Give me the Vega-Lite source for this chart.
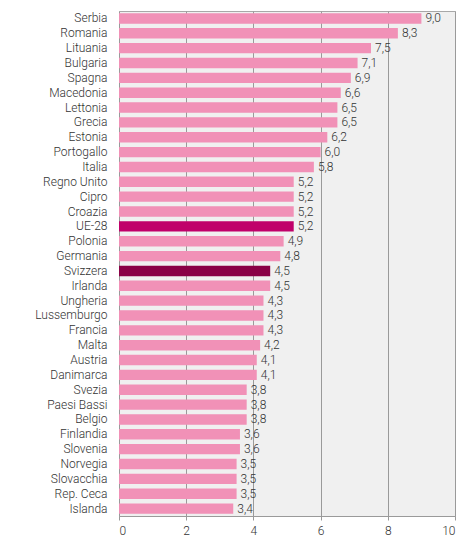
{
  "$schema": "https://vega.github.io/schema/vega-lite/v6.json",
  "width": 336,
  "height": 505,
  "autosize": {"type": "none"},
  "padding": {"left": 119, "top": 11, "right": 20, "bottom": 24},
  "background": "white",
  "config": {
    "font": "Roboto",
    "locale": {"number": {"decimal": ",", "thousands": ".", "grouping": [3], "currency": ["€", ""]}},
    "view": {"fill": "#f0f0f0", "stroke": "#a8a8a8", "strokeWidth": 1}
  },
  "data": {
    "values": [
      {"paese": "Serbia", "valore": 9.0, "tipo": "altro"},
      {"paese": "Romania", "valore": 8.3, "tipo": "altro"},
      {"paese": "Lituania", "valore": 7.5, "tipo": "altro"},
      {"paese": "Bulgaria", "valore": 7.1, "tipo": "altro"},
      {"paese": "Spagna", "valore": 6.9, "tipo": "altro"},
      {"paese": "Macedonia", "valore": 6.6, "tipo": "altro"},
      {"paese": "Lettonia", "valore": 6.5, "tipo": "altro"},
      {"paese": "Grecia", "valore": 6.5, "tipo": "altro"},
      {"paese": "Estonia", "valore": 6.2, "tipo": "altro"},
      {"paese": "Portogallo", "valore": 6.0, "tipo": "altro"},
      {"paese": "Italia", "valore": 5.8, "tipo": "altro"},
      {"paese": "Regno Unito", "valore": 5.2, "tipo": "altro"},
      {"paese": "Cipro", "valore": 5.2, "tipo": "altro"},
      {"paese": "Croazia", "valore": 5.2, "tipo": "altro"},
      {"paese": "UE-28", "valore": 5.2, "tipo": "UE"},
      {"paese": "Polonia", "valore": 4.9, "tipo": "altro"},
      {"paese": "Germania", "valore": 4.8, "tipo": "altro"},
      {"paese": "Svizzera", "valore": 4.5, "tipo": "CH"},
      {"paese": "Irlanda", "valore": 4.5, "tipo": "altro"},
      {"paese": "Ungheria", "valore": 4.3, "tipo": "altro"},
      {"paese": "Lussemburgo", "valore": 4.3, "tipo": "altro"},
      {"paese": "Francia", "valore": 4.3, "tipo": "altro"},
      {"paese": "Malta", "valore": 4.2, "tipo": "altro"},
      {"paese": "Austria", "valore": 4.1, "tipo": "altro"},
      {"paese": "Danimarca", "valore": 4.1, "tipo": "altro"},
      {"paese": "Svezia", "valore": 3.8, "tipo": "altro"},
      {"paese": "Paesi Bassi", "valore": 3.8, "tipo": "altro"},
      {"paese": "Belgio", "valore": 3.8, "tipo": "altro"},
      {"paese": "Finlandia", "valore": 3.6, "tipo": "altro"},
      {"paese": "Slovenia", "valore": 3.6, "tipo": "altro"},
      {"paese": "Norvegia", "valore": 3.5, "tipo": "altro"},
      {"paese": "Slovacchia", "valore": 3.5, "tipo": "altro"},
      {"paese": "Rep. Ceca", "valore": 3.5, "tipo": "altro"},
      {"paese": "Islanda", "valore": 3.4, "tipo": "altro"}
    ]
  },
  "encoding": {
    "y": {
      "field": "paese",
      "type": "nominal",
      "sort": null,
      "scale": {"paddingInner": 0.3, "paddingOuter": 0.15},
      "axis": {
        "title": null,
        "domain": false,
        "ticks": false,
        "labelPadding": 12,
        "labelFont": "Roboto",
        "labelFontWeight": 300,
        "labelFontSize": 12,
        "labelColor": "#333333"
      }
    },
    "x": {
      "field": "valore",
      "type": "quantitative",
      "scale": {"domain": [0, 10], "nice": false},
      "axis": {
        "title": null,
        "values": [0, 2, 4, 6, 8, 10],
        "format": "d",
        "grid": true,
        "gridColor": "#9a9a9a",
        "gridWidth": 1,
        "domainColor": "#9a9a9a",
        "tickColor": "#9a9a9a",
        "tickSize": 4,
        "labelPadding": 5,
        "labelFont": "Roboto",
        "labelFontWeight": 300,
        "labelFontSize": 12,
        "labelColor": "#333333"
      }
    }
  },
  "layer": [
    {
      "mark": {"type": "bar"},
      "encoding": {
        "color": {
          "field": "tipo",
          "type": "nominal",
          "scale": {"domain": ["altro", "UE", "CH"], "range": ["#f191b7", "#c0006a", "#8a0046"]},
          "legend": null
        }
      }
    },
    {
      "mark": {"type": "text", "align": "left", "baseline": "middle", "dx": 4, "font": "Roboto", "fontWeight": 300, "fontSize": 12, "color": "#333333"},
      "encoding": {
        "text": {"field": "valore", "type": "quantitative", "format": ".1f"}
      }
    }
  ]
}
